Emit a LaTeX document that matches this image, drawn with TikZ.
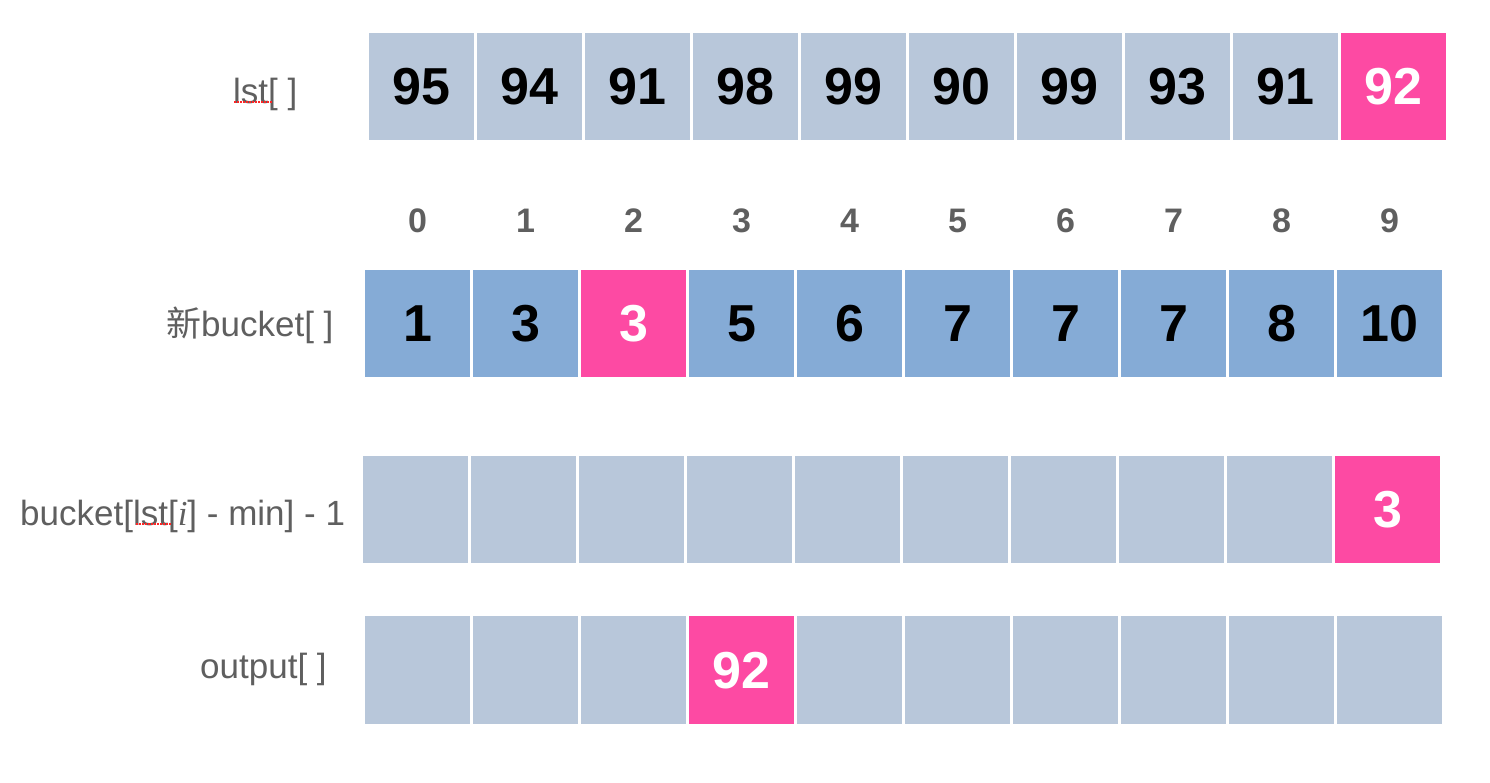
\documentclass[tikz,border=0pt]{standalone}
\usepackage{fontspec}
\setmainfont{Liberation Sans}
\newfontfamily\cjkfont{Noto Sans CJK SC}
\newfontfamily\timesit{Liberation Serif}
\definecolor{cgray}{HTML}{B8C7DA}
\definecolor{cblue}{HTML}{85ABD6}
\definecolor{cpink}{HTML}{FD4AA3}
\definecolor{ctext}{HTML}{5F5F5F}
\begin{document}
\begin{tikzpicture}[x=1pt,y=-1pt,
  cell/.style={anchor=north west,minimum width=105pt,minimum height=107pt,inner sep=0pt,draw=none,
    font=\fontsize{52}{52}\selectfont\bfseries,text=black},
  hot/.style={fill=cpink,text=white},
  idx/.style={font=\fontsize{34}{34}\selectfont\bfseries,text=ctext,inner sep=0pt},
  lbl/.style={anchor=base west,font=\fontsize{35}{35}\selectfont,text=ctext,inner sep=0pt},
  spell/.style={draw=red!85,line width=1.2pt,dash pattern=on 1.5pt off 1.5pt}]
\useasboundingbox (0,0) rectangle (1490,782);
% row 1: lst[]
\foreach \i/\v in {0/95,1/94,2/91,3/98,4/99,5/90,6/99,7/93,8/91}
  \node[cell,fill=cgray] (a\i) at ({369+108*\i},33) {\v};
\node[cell,hot] (a9) at (1341,33) {92};
% indices
\foreach \i in {0,...,9}
  \node[idx] (n\i) at ({417.5+108*\i},221) {\i};
% row 2: new bucket
\foreach \i/\v in {0/1,1/3,3/5,4/6,5/7,6/7,7/7,8/8,9/10}
  \node[cell,fill=cblue] (b\i) at ({365+108*\i},270) {\v};
\node[cell,hot] (b2) at (581,270) {3};
% row 3
\foreach \i in {0,...,8}
  \node[cell,fill=cgray] (c\i) at ({363+108*\i},456) {};
\node[cell,hot] (c9) at (1335,456) {3};
% row 4: output
\foreach \i in {0,1,2,4,5,6,7,8,9}
  \node[cell,fill=cgray,minimum height=108pt] (d\i) at ({365+108*\i},616) {};
\node[cell,hot,minimum height=108pt] (d3) at (689,616) {92};
% labels
\node[lbl] (l1) at (233,103) {lst[ ]};
\node[lbl] (l2) at (166,336) {{\cjkfont 新}bucket[ ]};
\node[lbl] (l3) at (20,525) {bucket[lst[{\timesit\itshape i}] - min] - 1};
\node[lbl] (l4) at (200,678) {output[ ]};
% spell-check marks
\coordinate (s1a) at (234,102); \coordinate (s1b) at (272,102);
\draw[spell] (s1a) -- (s1b);
\coordinate (s3a) at (136,524); \coordinate (s3b) at (172,524);
\draw[spell] (s3a) -- (s3b);
\end{tikzpicture}
\end{document}
